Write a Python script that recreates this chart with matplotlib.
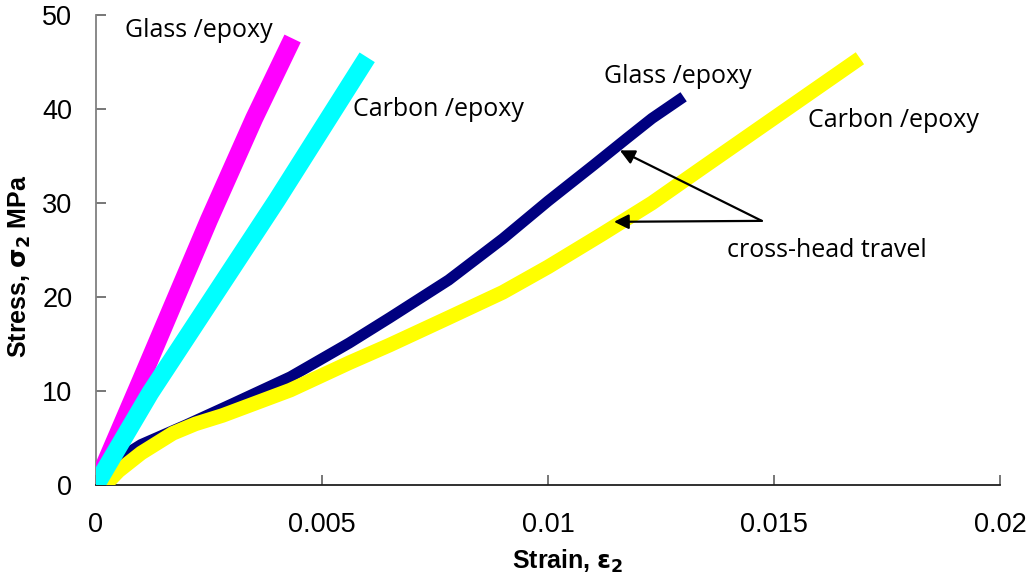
import matplotlib.pyplot as plt

# strain gauge readings
glass_sg_strain = [0.0, 0.0010, 0.0025, 0.0035, 0.00435]
glass_sg_stress = [0.0, 11.2, 28.2, 39.0, 47.5]
carbon_sg_strain = [0.0, 0.0012, 0.0040, 0.0060]
carbon_sg_stress = [0.0, 9.8, 30.3, 45.5]

# cross-head travel
glass_ch_strain = [0.0, 0.0005, 0.001, 0.002, 0.003, 0.0043, 0.0056, 0.0065, 0.0078,
                   0.009, 0.0100, 0.0110, 0.01175, 0.0123, 0.0130]
glass_ch_stress = [0.0, 2.8, 4.3, 6.4, 8.6, 11.5, 15.1, 17.8, 21.8,
                   26.2, 30.2, 34.0, 36.9, 39.0, 41.3]
carbon_ch_strain = [0.0002, 0.0005, 0.001, 0.0017, 0.0022, 0.0028, 0.0043, 0.0056, 0.0065,
                    0.0078, 0.009, 0.0100, 0.0112, 0.0123, 0.0134, 0.0169]
carbon_ch_stress = [0.0, 1.5, 3.4, 5.5, 6.5, 7.4, 10.1, 13.0, 14.9,
                    17.8, 20.5, 23.2, 26.7, 30.0, 33.7, 45.4]

x_ticks = [0, 0.005, 0.01, 0.015, 0.02]
x_tick_labels = ['0', '0.005', '0.01', '0.015', '0.02']
y_ticks = [0, 10, 20, 30, 40, 50]

plt.rcParams['font.family'] = ['Liberation Sans', 'DejaVu Sans']

fig = plt.figure(figsize=(10.33, 5.77), dpi=100)
ax = fig.add_axes([0.0929, 0.1594, 0.8752, 0.8146])

line_kw = dict(solid_capstyle='butt', solid_joinstyle='round')
ax.plot(glass_ch_strain, glass_ch_stress, color='#000080', lw=8, zorder=2, **line_kw)
ax.plot(carbon_ch_strain, carbon_ch_stress, color='#ffff00', lw=10.5, zorder=3, **line_kw)
ax.plot(glass_sg_strain, glass_sg_stress, color='#ff00ff', lw=13, zorder=4, **line_kw)
ax.plot(carbon_sg_strain, carbon_sg_stress, color='#00ffff', lw=13, zorder=5, **line_kw)

ax.set_xlim(0, 0.02)
ax.set_ylim(0, 50)
ax.set_xticks(x_ticks)
ax.set_xticklabels(x_tick_labels)
ax.set_yticks(y_ticks)

for side in ['top', 'right']:
    ax.spines[side].set_visible(False)
ax.spines['left'].set_color('#808080')
ax.spines['left'].set_linewidth(1.3)
ax.spines['bottom'].set_color('#202020')
ax.spines['bottom'].set_linewidth(1.3)
ax.tick_params(axis='both', direction='in', length=7, width=1.2, colors='#606060',
               labelcolor='black', labelsize=19.5)
ax.tick_params(axis='y', pad=17)
ax.tick_params(axis='x', pad=19.5)

ax.set_xlabel(r'Strain, $\mathbf{\varepsilon_2}$', fontsize=18, fontweight='bold')
ax.set_ylabel(r'Stress, $\mathbf{\sigma_2}$ MPa', fontsize=18, fontweight='bold')
ax.xaxis.set_label_coords(0.522, -0.134)
ax.yaxis.set_label_coords(-0.07, 0.466)

note_font = dict(family=['Open Sans', 'DejaVu Sans'], fontsize=18, va='center', ha='left')
ax.text(0.00064, 48.4, 'Glass /epoxy', **note_font)
ax.text(0.00569, 40.0, 'Carbon /epoxy', **note_font)
ax.text(0.01124, 43.5, 'Glass /epoxy', **note_font)
ax.text(0.01575, 38.8, 'Carbon /epoxy', **note_font)
ax.text(0.01396, 25.0, 'cross-head travel', **note_font)

arrow = dict(arrowstyle='-|>', color='black', lw=1.6, mutation_scale=22, shrinkA=0, shrinkB=0)
ax.annotate('', xy=(0.01159, 35.6), xytext=(0.01473, 28.1), arrowprops=arrow, zorder=6)
ax.annotate('', xy=(0.01146, 28.0), xytext=(0.01473, 28.1), arrowprops=arrow, zorder=6)

fig.savefig('out.png', dpi=100)
